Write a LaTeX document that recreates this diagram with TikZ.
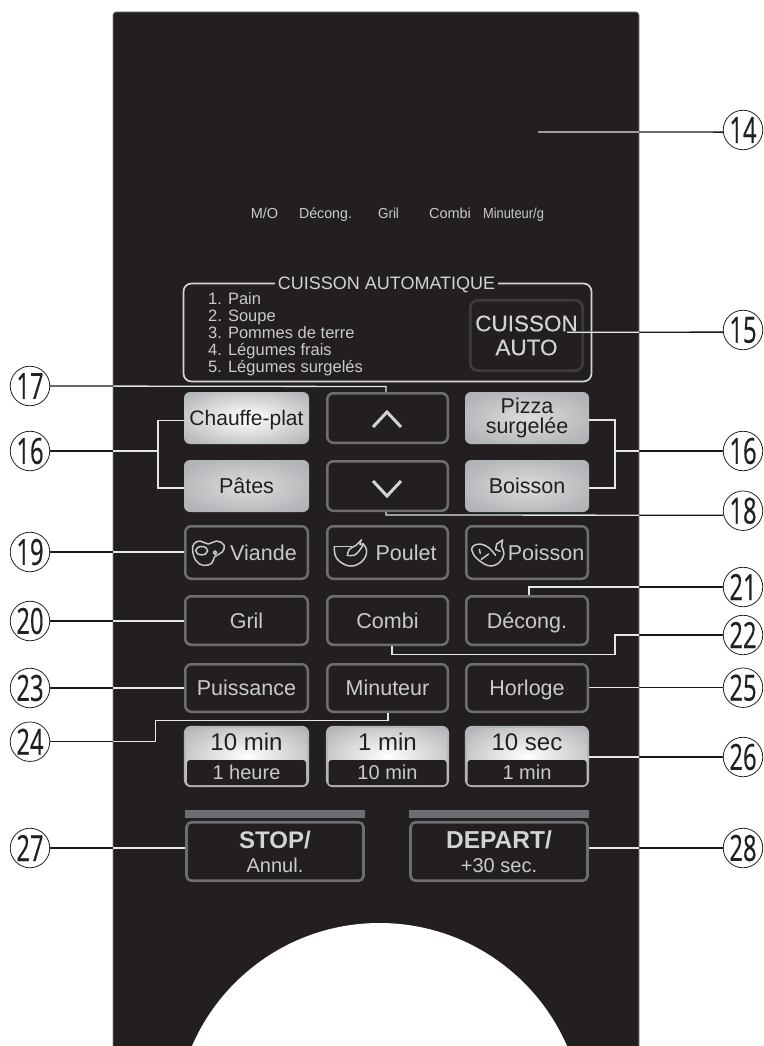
\documentclass[tikz,border=0pt]{standalone}
\usepackage{fontspec}
\usepackage{graphicx}
\setmainfont{Liberation Sans}
\newfontfamily\numfont[FakeBold=.6]{Open Sans}
\newfontfamily\autofont[FakeBold=.35]{Liberation Sans}
\definecolor{panelc}{HTML}{231F20}
\definecolor{btngray}{HTML}{B1B3B6}
\definecolor{edgec}{HTML}{6D6E71}
\definecolor{autoedge}{HTML}{3E3B3C}
\definecolor{txtc}{HTML}{C9CACC}
\definecolor{framec}{HTML}{D1D3D4}
\definecolor{softw}{HTML}{E4E5E6}
\pgfdeclareradialshading{btnglow}{\pgfpoint{0bp}{0bp}}{color(0bp)=(white); color(34bp)=(btngray); color(50bp)=(btngray)}
\pgfdeclareradialshading{btnglowb}{\pgfpoint{0bp}{0bp}}{color(0bp)=(btngray!45!white); color(30bp)=(btngray); color(50bp)=(btngray)}
\newcommand\fsz[2]{\fontsize{#1}{#2}\selectfont}
\newcommand\lead[1]{\draw[blkline] #1; \begin{scope}\clip (113,12) rectangle (639,1046); \draw[whtline] #1;\end{scope}}
\newcommand\cnum[1]{\scalebox{.66}[1]{\numfont\fsz{36}{36}#1}}
\tikzset{
 blkline/.style={draw=black!90,line width=1.3pt,line join=miter},
 whtline/.style={draw=softw,line width=1.3pt,line join=miter},
 callout/.style={circle,draw=black!85,line width=.8pt,fill=white,minimum size=39.5pt,inner sep=0pt,text=panelc},
 darkbtn/.style={rectangle,rounded corners=6pt,draw=edgec,line width=2.5pt,fill=panelc,inner sep=0pt,text=txtc,font=\fsz{21.5}{21.5},text height=15pt,text depth=0pt},
 lightbtn/.style={rectangle,rounded corners=6pt,shade,shading=btnglow,inner sep=0pt,text=panelc,font=\fsz{21.5}{19.5},align=center},
 oneline/.style={text height=15pt,text depth=0pt},
 timebtn/.style={lightbtn,draw=btngray,line width=1.6pt,minimum height=59.5pt,font=\fsz{24}{24},text height=0pt,text depth=13pt},
 timelow/.style={rectangle,rounded corners=3pt,fill=panelc,inner sep=0pt,text=txtc,minimum height=25pt,font=\fsz{20}{20},text height=14pt,text depth=0pt},
 bigbtn/.style={rectangle,rounded corners=5pt,draw=edgec,line width=2.6pt,fill=panelc,inner sep=0pt,text=txtc,minimum width=177pt,minimum height=58.5pt,font=\fsz{20}{24},align=center},
 barc/.style={rectangle,fill=edgec,inner sep=0pt,minimum width=180pt,minimum height=8pt},
 toptext/.style={inner sep=0pt,anchor=base,text=txtc,font=\fsz{14.5}{14.5}},
 chev/.style={draw=framec,line width=3pt,line join=miter},
 icon/.style={draw=txtc,line width=1.5pt,line cap=round,line join=round},
}
\begin{document}
\begin{tikzpicture}[x=1pt,y=-1pt]
\useasboundingbox (0,0) rectangle (763,1046);
\fill[white] (0,0) rectangle (763,1046);
% panel
\path[fill=panelc,draw=gray,line width=.6pt,rounded corners=3pt] (113,12) -- (639,12) -- (639,1060) -- (113,1060) -- cycle;
\begin{scope}
\clip (100,900) rectangle (660,1046);
\fill[white] (379.5,1127.4) circle (204.4);
\end{scope}
% status texts
\node[toptext] (tmo) at (264.5,218) {M/O};
\node[toptext] (tdec) at (325.5,218) {\scalebox{.98}[1]{Décong.}};
\node[toptext] (tgr) at (388.5,218) {\scalebox{.93}[1]{Gril}};
\node[toptext] (tco) at (450,218) {Combi};
\node[toptext] (tmin) at (513.5,218) {\scalebox{.89}[1]{Minuteur/g}};
% auto frame
\node[rectangle,rounded corners=8pt,draw=framec,line width=1.7pt,minimum width=408pt,minimum height=98pt,inner sep=0pt] (frame) at (387.5,332.5) {};
\node[fill=panelc,inner sep=0pt,inner xsep=3pt,text=framec,font=\fsz{18}{18},text height=13pt,text depth=0pt] (ftitle) at (386.5,282.5) {CUISSON AUTOMATIQUE};
\node[anchor=north west,inner sep=0pt,align=left,text=txtc,font=\fsz{16.5}{17}] (flist) at (208,292) {1. Pain\\2. Soupe\\3. Pommes de terre\\4. Légumes frais\\5. Légumes surgelés};
\node[rectangle,rounded corners=8pt,draw=autoedge,line width=2.8pt,fill=panelc,minimum width=112.5pt,minimum height=70.5pt,inner sep=0pt,text=framec,font=\autofont\fsz{22.5}{24},align=center] (auto) at (526.5,335.5) {CUISSON\\AUTO};
% row 1-2
\node[lightbtn,oneline,minimum width=125pt,minimum height=52pt,font=\fsz{21}{21}] (chauffe) at (246.5,418) {Chauffe-plat};
\node[lightbtn,oneline,shading=btnglowb,minimum width=125pt,minimum height=52pt] (pates) at (246.5,486) {Pâtes};
\node[lightbtn,shading=btnglowb,minimum width=124pt,minimum height=52pt] (pizza) at (527,418) {Pizza\\surgelée};
\node[lightbtn,oneline,shading=btnglowb,minimum width=124pt,minimum height=52pt] (boisson) at (527,486) {Boisson};
\node[darkbtn,minimum width=120.5pt,minimum height=49.5pt] (up) at (387.5,418) {};
\node[darkbtn,minimum width=120.5pt,minimum height=49.5pt] (down) at (387.5,486) {};
\coordinate (upa) at (373,427); \coordinate (upb) at (387,412); \coordinate (upc) at (401,427);
\coordinate (dna) at (373,481); \coordinate (dnb) at (387,496); \coordinate (dnc) at (401,481);
\draw[chev] (upa) -- (upb) -- (upc);
\draw[chev] (dna) -- (dnb) -- (dnc);
% row 3
\node[darkbtn,minimum width=122.5pt,minimum height=52.5pt] (viande) at (246.5,552.5) {\hspace*{34pt}Viande};
\node[darkbtn,minimum width=120.5pt,minimum height=52.5pt] (poulet) at (387.5,552.5) {\hspace*{37pt}Poulet};
\node[darkbtn,minimum width=121.5pt,minimum height=52.5pt] (poisson) at (527,552.5) {\hspace*{38pt}Poisson};
\begin{scope}[shift={(170,530)},x=.3333pt,y=-.3333pt]
\draw[icon] plot[smooth cycle,tension=.7] coordinates {(68,62)(72,42)(90,33)(115,42)(140,33)(162,45)(157,66)(134,80)(125,100)(100,106)(78,92)};
\draw[icon] (95,62) ellipse [x radius=6pt,y radius=4.2pt];
\draw[icon] (135,68) circle (1.7pt);
\end{scope}
\begin{scope}[shift={(320,530)},x=.3333pt,y=-.3333pt]
\draw[icon] (43,50) -- (96,50);
\draw[icon] plot[smooth,tension=.7] coordinates {(43,50)(50,85)(88,108)(125,95)(140,65)(130,42)};
\draw[icon] plot[smooth,tension=.7] coordinates {(82,76)(88,58)(108,46)(124,30)};
\draw[icon] plot[smooth,tension=.7] coordinates {(124,30)(120,44)(130,42)(118,62)(102,76)(82,76)};
\end{scope}
\begin{scope}[shift={(320,530)},x=.3333pt,y=-.3333pt]
\draw[icon] plot[smooth,tension=.6] coordinates {(527,76)(505,52)(480,42)(460,48)(456,62)(470,85)(505,107)(535,100)(552,72)(545,48)(548,30)};
\draw[icon] (548,30) -- (530,42) -- (527,58);
\draw[icon] (527,58) -- (540,64);
\draw[icon] (478,58) -- (481,70);
\draw[icon] (484,88) -- (506,72);
\end{scope}
% row 4-5
\node[darkbtn,minimum width=122.5pt,minimum height=48.5pt] (gril) at (246.5,620.5) {Gril};
\node[darkbtn,minimum width=120.5pt,minimum height=48.5pt] (combi) at (387.5,620.5) {Combi};
\node[darkbtn,minimum width=121.5pt,minimum height=48.5pt] (decong) at (527,620.5) {Décong.};
\node[darkbtn,minimum width=122.5pt,minimum height=47.5pt] (puiss) at (246.5,688) {Puissance};
\node[darkbtn,minimum width=120.5pt,minimum height=47.5pt] (minut) at (387.5,688) {Minuteur};
\node[darkbtn,minimum width=121.5pt,minimum height=47.5pt] (horl) at (527,688) {Horloge};
% row 6
\node[timebtn,minimum width=123.5pt] (ta) at (246.5,756.5) {10 min};
\node[timebtn,minimum width=121.5pt] (tb) at (387.5,756.5) {1 min};
\node[timebtn,minimum width=122.5pt] (tc) at (527,756.5) {10 sec};
\node[timelow,minimum width=119pt] (tal) at (246.5,772.5) {1 heure};
\node[timelow,minimum width=118pt] (tbl) at (387.5,772.5) {10 min};
\node[timelow,minimum width=119pt] (tcl) at (527,772.5) {1 min};
% stop / start
\node[barc] (bara) at (275,814) {};
\node[barc] (barb) at (499,814) {};
\node[bigbtn] (stop) at (275,851.5) {{\fsz{24}{24}\bfseries\color{framec}STOP/}\\Annul.};
\node[bigbtn] (depart) at (499,851.5) {{\fsz{24.5}{24}\bfseries\color{framec}DEPART/}\\+30 sec.};
% callouts
\node[callout] (c14) at (743,130) {\cnum{14}};
\node[callout] (c15) at (743,330) {\cnum{15}};
\node[callout] (c16r) at (743,451) {\cnum{16}};
\node[callout] (c18) at (743,510.7) {\cnum{18}};
\node[callout] (c21) at (743,587) {\cnum{21}};
\node[callout] (c22) at (743,635) {\cnum{22}};
\node[callout] (c25) at (743,687.7) {\cnum{25}};
\node[callout] (c26) at (743,757) {\cnum{26}};
\node[callout] (c28) at (743,848) {\cnum{28}};
\node[callout] (c17) at (30,386) {\cnum{17}};
\node[callout] (c16l) at (30,451) {\cnum{16}};
\node[callout] (c19) at (30,552) {\cnum{19}};
\node[callout] (c20) at (30,621) {\cnum{20}};
\node[callout] (c23) at (30,688) {\cnum{23}};
\node[callout] (c24) at (30,741.7) {\cnum{24}};
\node[callout] (c27) at (30,848) {\cnum{27}};
% leader waypoints
\coordinate (e14) at (538,132);
\coordinate (e15) at (567,332.3);
\coordinate (k17) at (386,386.5);
\coordinate (k16la) at (158,420.7);
\coordinate (k16lb) at (158,488);
\coordinate (k16ra) at (615,420);
\coordinate (k16rb) at (615,488);
\coordinate (k18) at (386,515);
\coordinate (k21) at (529,587);
\coordinate (k22a) at (615,635);
\coordinate (k22b) at (615,654.5);
\coordinate (k22c) at (392,654.5);
\coordinate (k24a) at (155.7,741.7);
\coordinate (k24b) at (155.7,720.5);
\coordinate (k24c) at (388,720.5);
% leaders
\lead{(c14.186) -- (e14)}
\lead{(c15.186) -- (e15)}
\lead{(c17.east) -- (k17) -- (up.north -| k17)}
\lead{(c16l.east) -- (k16la |- c16l.east)}
\lead{(chauffe.west |- k16la) -- (k16la) -- (k16lb) -- (pates.west |- k16lb)}
\lead{(c16r.west) -- (k16ra |- c16r.west)}
\lead{(pizza.east |- k16ra) -- (k16ra) -- (k16rb) -- (boisson.east |- k16rb)}
\lead{(c18.193) -- (k18) -- (down.south -| k18)}
\lead{(c19.east) -- (viande.west |- c19.east)}
\lead{(c20.east) -- (gril.west |- c20.east)}
\lead{(c21.west) -- (k21) -- (decong.north -| k21)}
\lead{(c22.west) -- (k22a) -- (k22b) -- (k22c) -- (combi.south -| k22c)}
\lead{(c23.east) -- (puiss.west |- c23.east)}
\lead{(c24.east) -- (k24a) -- (k24b) -- (k24c) -- (minut.south -| k24c)}
\lead{(c25.west) -- (horl.east |- c25.west)}
\lead{(c26.west) -- (tc.east |- c26.west)}
\lead{(c27.east) -- (stop.west |- c27.east)}
\lead{(c28.west) -- (depart.east |- c28.west)}
\end{tikzpicture}
\end{document}
